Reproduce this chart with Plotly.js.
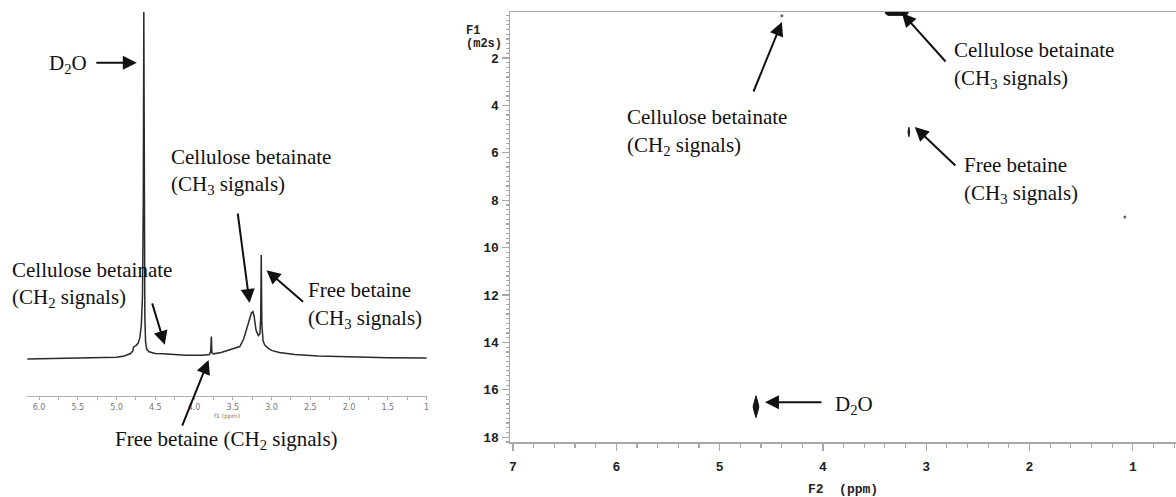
<!DOCTYPE html>
<html>
<head>
<meta charset="utf-8">
<script src="https://cdn.plot.ly/plotly-3.0.1.min.js"></script>
<style>
  html, body { margin: 0; padding: 0; background: #fff; }
  #chart { width: 1176px; height: 497px; }
</style>
</head>
<body>
<div id="chart"></div>
<script>
// 1H NMR spectrum (left): chemical shift (ppm) and relative intensity
const specPpm = [6.15, 5.8, 5.5, 5.2, 5.0, 4.9, 4.82, 4.79, 4.78, 4.75, 4.72, 4.70, 4.68, 4.665, 4.655, 4.648,
  4.642, 4.635, 4.625, 4.61, 4.58, 4.5, 4.4, 4.3, 4.1, 3.9, 3.80, 3.785, 3.777, 3.770, 3.75, 3.65, 3.55,
  3.45, 3.41, 3.36, 3.31, 3.28, 3.26, 3.241, 3.225, 3.20, 3.17, 3.15, 3.14, 3.133, 3.126, 3.11, 3.09,
  3.05, 3.0, 2.9, 2.7, 2.4, 2.0, 1.5, 1.0];
const specInt = [-0.3, -0.2, 0.0, 0.0, 0.2, 0.6, 1.3, 2.0, 3.2, 3.6, 4.3, 5.8, 9.5, 18, 45, 100,
  40, 12, 4.5, 2.5, 1.8, 1.3, 1.2, 1.0, 0.8, 0.8, 1.0, 2.0, 6.2, 1.5, 1.2, 1.6, 2.4,
  3.0, 3.3, 5.5, 9.0, 11.5, 13.0, 13.4, 12.0, 8.0, 6.5, 7.0, 12.0, 29.8, 10.0, 5.0, 3.8,
  2.9, 2.2, 1.6, 1.0, 0.6, 0.3, 0.1, 0.0];
const specTickVals = [6.0, 5.5, 5.0, 4.5, 4.0, 3.5, 3.0, 2.5, 2.0, 1.5, 1.0];
const specTickText = ['6.0', '5.5', '5.0', '4.5', '4.0', '3.5', '3.0', '2.5', '2.0', '1.5', '1'];

// DOSY map (right): contour outlines of the resolved signals (F2 ppm, F1 diffusion)
const d2oSpotPpm = [4.648, 4.664, 4.676, 4.664, 4.648, 4.632, 4.620, 4.632, 4.648];
const d2oSpotF1 = [16.25, 16.48, 16.71, 16.94, 17.17, 16.94, 16.71, 16.48, 16.25];
const celCH3SpotPpm = [3.39, 3.18, 3.175, 3.20, 3.37, 3.395, 3.39];
const celCH3SpotF1 = [-0.1, -0.1, 0.12, 0.20, 0.20, 0.12, -0.1];
const freeCH3SpotPpm = [3.168, 3.176, 3.168, 3.160, 3.168];
const freeCH3SpotF1 = [4.92, 5.12, 5.32, 5.12, 4.92];
const dotPpm = [4.397, 1.077];
const dotF1 = [0.22, 8.71];
const dosyYTicks = [2, 4, 6, 8, 10, 12, 14, 16, 18];
const dosyXTicks = [7, 6, 5, 4, 3, 2, 1];

const W = 1176, H = 497;
const px = x => x / W;
const py = y => 1 - y / H;

const spotStyle = { mode: 'lines', fill: 'toself', fillcolor: '#141414',
  line: { color: '#141414', width: 1 }, hoverinfo: 'skip', showlegend: false };

const traces = [
  { x: specPpm, y: specInt, xaxis: 'x', yaxis: 'y', mode: 'lines',
    line: { color: '#2a2a2a', width: 1.5 }, showlegend: false },
  Object.assign({ x: d2oSpotPpm, y: d2oSpotF1, xaxis: 'x2', yaxis: 'y2' }, spotStyle),
  Object.assign({ x: celCH3SpotPpm, y: celCH3SpotF1, xaxis: 'x2', yaxis: 'y2' }, spotStyle),
  Object.assign({ x: freeCH3SpotPpm, y: freeCH3SpotF1, xaxis: 'x2', yaxis: 'y2' }, spotStyle),
  { x: dotPpm, y: dotF1, xaxis: 'x2', yaxis: 'y2', mode: 'markers',
    marker: { color: '#666', size: 3 }, showlegend: false }
];

const serif = { family: '"Liberation Serif", "Times New Roman", serif', size: 21, color: '#111' };
function label(text, x, y) {
  return { text: text, xref: 'paper', yref: 'paper', x: px(x), y: py(y),
    xanchor: 'left', yanchor: 'middle', align: 'left', showarrow: false, font: serif };
}
function arrow(xr, yr, x, y, ax, ay) {
  return { text: '', xref: xr, yref: yr, x: x, y: y, ax: ax, ay: ay, showarrow: true,
    arrowhead: 2, arrowsize: 1.4, arrowwidth: 2, arrowcolor: '#111', standoff: 0 };
}
const monoSmall = { family: '"Liberation Mono", "Courier New", monospace', size: 12, color: '#222', weight: 'bold' };
function monoLabel(text, x, y) {
  return { text: text, xref: 'paper', yref: 'paper', x: px(x), y: py(y),
    xanchor: 'left', yanchor: 'middle', showarrow: false, font: monoSmall };
}

const annotations = [
  // spectrum labels
  label('D<sub>2</sub>O', 47, 64),
  label('Cellulose betainate', 169, 157),
  label('(CH<sub>3</sub> signals)', 169, 185),
  label('Cellulose betainate', 10, 270),
  label('(CH<sub>2</sub> signals)', 10, 298),
  label('Free betaine', 306, 290),
  label('(CH<sub>3</sub> signals)', 306, 319),
  label('Free betaine (CH<sub>2</sub> signals)', 113, 440),
  arrow('x', 'y', 4.738, 85.3, -42, 0),
  arrow('x', 'y', 3.284, 15.9, -12, -91),
  arrow('x', 'y', 4.378, 3.8, -13, -43),
  arrow('x', 'y', 3.065, 25.4, 38, 33),
  arrow('x', 'y', 3.812, -0.6, -27, 67),
  // DOSY labels
  label('Cellulose betainate', 625, 117),
  label('(CH<sub>2</sub> signals)', 625, 146),
  label('Cellulose betainate', 952, 50),
  label('(CH<sub>3</sub> signals)', 952, 79),
  label('Free betaine', 962, 165),
  label('(CH<sub>3</sub> signals)', 962, 194),
  label('D<sub>2</sub>O', 833, 405),
  arrow('x2', 'y2', 4.397, 0.48, -29, 71),
  arrow('x2', 'y2', 3.235, 0.10, 45, 50),
  arrow('x2', 'y2', 3.110, 4.91, 42, 40),
  arrow('x2', 'y2', 4.561, 16.52, 58, 0),
  monoLabel('F1', 464, 31),
  monoLabel('(m2s)', 464, 44)
];

const mono = { family: '"Liberation Mono", "Courier New", monospace', size: 13, color: '#222', weight: 'bold' };

const layout = {
  width: W, height: H,
  margin: { l: 0, r: 0, t: 0, b: 0 },
  paper_bgcolor: '#fff', plot_bgcolor: '#fff',
  showlegend: false,
  xaxis: {
    domain: [px(27), px(427)], range: [6.155, 0.995], anchor: 'y',
    showgrid: false, zeroline: false, showline: true, linecolor: '#b0b0b0', linewidth: 1.2,
    ticks: 'outside', ticklen: 3, tickcolor: '#b0b0b0', tickwidth: 1,
    tickmode: 'array', tickvals: specTickVals, ticktext: specTickText,
    minor: { tickmode: 'linear', tick0: 1, dtick: 0.25, ticks: 'outside', ticklen: 3, tickcolor: '#b0b0b0' },
    tickfont: { family: '"DejaVu Sans", sans-serif', size: 8, color: '#777' },
    title: { text: 'f1 (ppm)', font: { family: '"DejaVu Sans", sans-serif', size: 6, color: '#777' }, standoff: 0 }
  },
  yaxis: {
    domain: [py(396), py(8)], range: [-10.98, 101.16], anchor: 'x', visible: false
  },
  xaxis2: {
    domain: [px(510), 1], range: [7.029, 0.582], anchor: 'y2',
    showgrid: false, zeroline: false, showline: true, mirror: true, linecolor: '#a8a8a8', linewidth: 1.5,
    ticks: 'outside', ticklen: 7, tickcolor: '#a8a8a8', tickwidth: 1.2,
    tickmode: 'array', tickvals: dosyXTicks, ticklabelstandoff: 5,
    minor: { tickmode: 'linear', tick0: 0, dtick: 0.2, ticks: 'outside', ticklen: 4, tickcolor: '#a8a8a8' },
    tickfont: mono,
    title: { text: 'F2  (ppm)', font: mono, standoff: 15 }
  },
  yaxis2: {
    domain: [py(442), py(12)], range: [18.2, 0.058], anchor: 'x2',
    showgrid: false, zeroline: false, showline: true, linecolor: '#a8a8a8', linewidth: 1.5,
    ticks: 'outside', ticklen: 7, tickcolor: '#a8a8a8', tickwidth: 1.2,
    tickmode: 'array', tickvals: dosyYTicks,
    minor: { tickmode: 'linear', tick0: 0, dtick: 0.2, ticks: 'outside', ticklen: 3, tickcolor: '#a8a8a8' },
    tickfont: mono
  },
  annotations: annotations
};

Plotly.newPlot('chart', traces, layout, { staticPlot: true, displayModeBar: false });
</script>
</body>
</html>
